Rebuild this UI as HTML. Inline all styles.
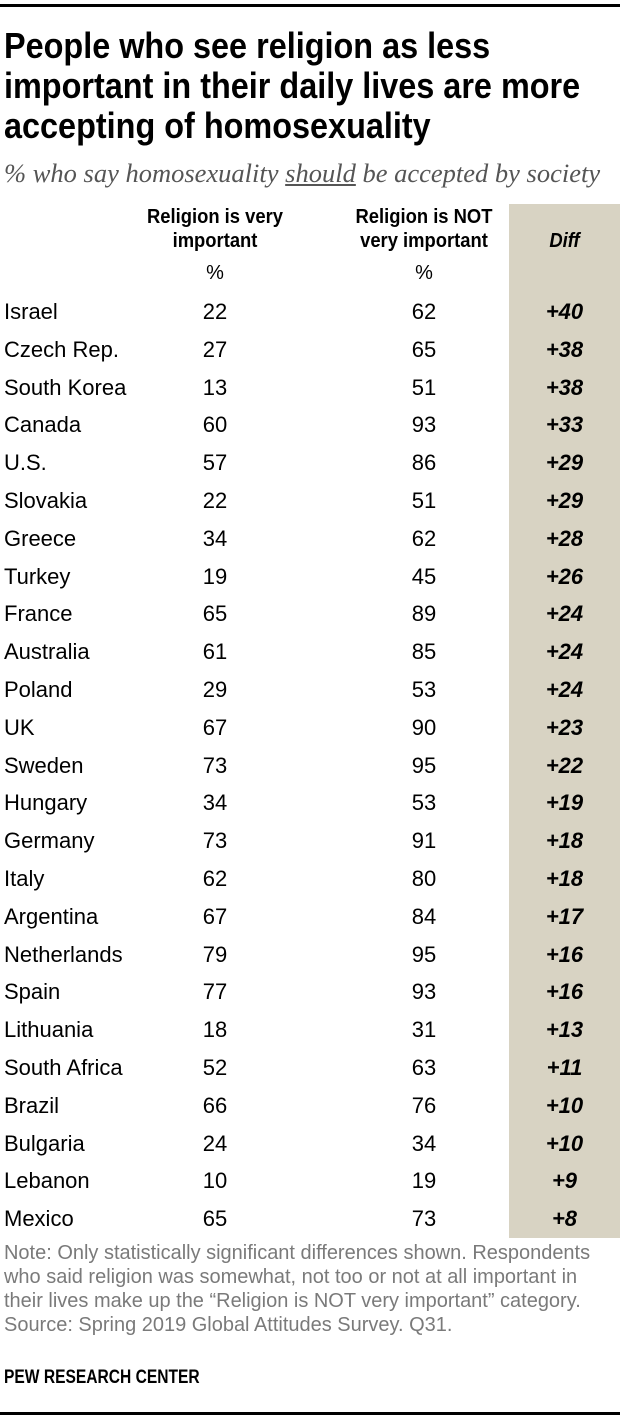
<!DOCTYPE html>
<html><head><meta charset="utf-8">
<style>
body{margin:0;width:620px;height:1418px;background:#fff;position:relative;overflow:hidden;font-family:"Liberation Sans",sans-serif;}
.a{position:absolute;white-space:nowrap;}
.t{left:4px;font-weight:bold;font-size:36px;color:#000;line-height:40px;transform:scaleX(0.9);transform-origin:left top;}
.h{font-weight:bold;font-size:20px;text-align:center;line-height:24px;color:#000;transform:scaleX(0.92);}
.c{font-size:22px;color:#000;line-height:24px;}
.n{left:4px;font-size:20.4px;color:#7a7a7a;line-height:24px;transform:scaleX(0.98);transform-origin:left top;}
</style></head><body>
<div class="a" style="left:0;top:4px;width:620px;height:3px;background:#000"></div>
<div class="a t" style="top:26px">People who see religion as less<br>important in their daily lives are more<br>accepting of homosexuality</div>
<div class="a" style="left:4px;top:158px;font-family:'Liberation Serif',serif;font-style:italic;font-size:26.5px;color:#555">% who say homosexuality <u>should</u> be accepted by society</div>
<div class="a" style="left:509px;top:204px;width:111px;height:1034px;background:#d8d3c3"></div>
<div class="a h" style="left:125px;width:180px;top:205px">Religion is very<br>important</div>
<div class="a h" style="left:334px;width:180px;top:205px">Religion is NOT<br>very important</div>
<div class="a h" style="left:509px;width:111px;top:229px;font-style:italic">Diff</div>
<div class="a c" style="left:195px;width:40px;text-align:center;top:261px;font-size:20px">%</div>
<div class="a c" style="left:404px;width:40px;text-align:center;top:261px;font-size:20px">%</div>
<div id="rows"></div>
<div class="a n" style="top:1241px">Note: Only statistically significant differences shown. Respondents<br>who said religion was somewhat, not too or not at all important in<br>their lives make up the “Religion is NOT very important” category.<br>Source: Spring 2019 Global Attitudes Survey. Q31.</div>
<div class="a" style="left:4px;top:1367px;font-weight:bold;font-size:19px;color:#000;transform:scaleX(0.82);transform-origin:left top">PEW RESEARCH CENTER</div>
<div class="a" style="left:0;top:1412px;width:620px;height:3px;background:#000"></div>
<script>
const countries=["Israel","Czech Rep.","South Korea","Canada","U.S.","Slovakia","Greece","Turkey","France","Australia","Poland","UK","Sweden","Hungary","Germany","Italy","Argentina","Netherlands","Spain","Lithuania","South Africa","Brazil","Bulgaria","Lebanon","Mexico"];
const veryImportant=[22,27,13,60,57,22,34,19,65,61,29,67,73,34,73,62,67,79,77,18,52,66,24,10,65];
const notVeryImportant=[62,65,51,93,86,51,62,45,89,85,53,90,95,53,91,80,84,95,93,31,63,76,34,19,73];
const diffs=["+40","+38","+38","+33","+29","+29","+28","+26","+24","+24","+24","+23","+22","+19","+18","+18","+17","+16","+16","+13","+11","+10","+10","+9","+8"];
const root=document.getElementById('rows');
countries.forEach((c,i)=>{
  const y=300+i*37.8;
  const mk=(txt,style,name)=>{
    const d=document.createElement('div');
    d.className='a c';
    d.setAttribute('style',style+';top:'+y+'px');
    
    
    d.textContent=txt;root.appendChild(d);
  };
  mk(c,'left:4px','country-label');
  mk(veryImportant[i],'left:175px;width:80px;text-align:center','very-important-value');
  mk(notVeryImportant[i],'left:384px;width:80px;text-align:center','not-very-important-value');
  mk(diffs[i],'left:509px;width:111px;text-align:center;font-weight:bold;font-style:italic','diff-value');
});
</script>
</body></html>
